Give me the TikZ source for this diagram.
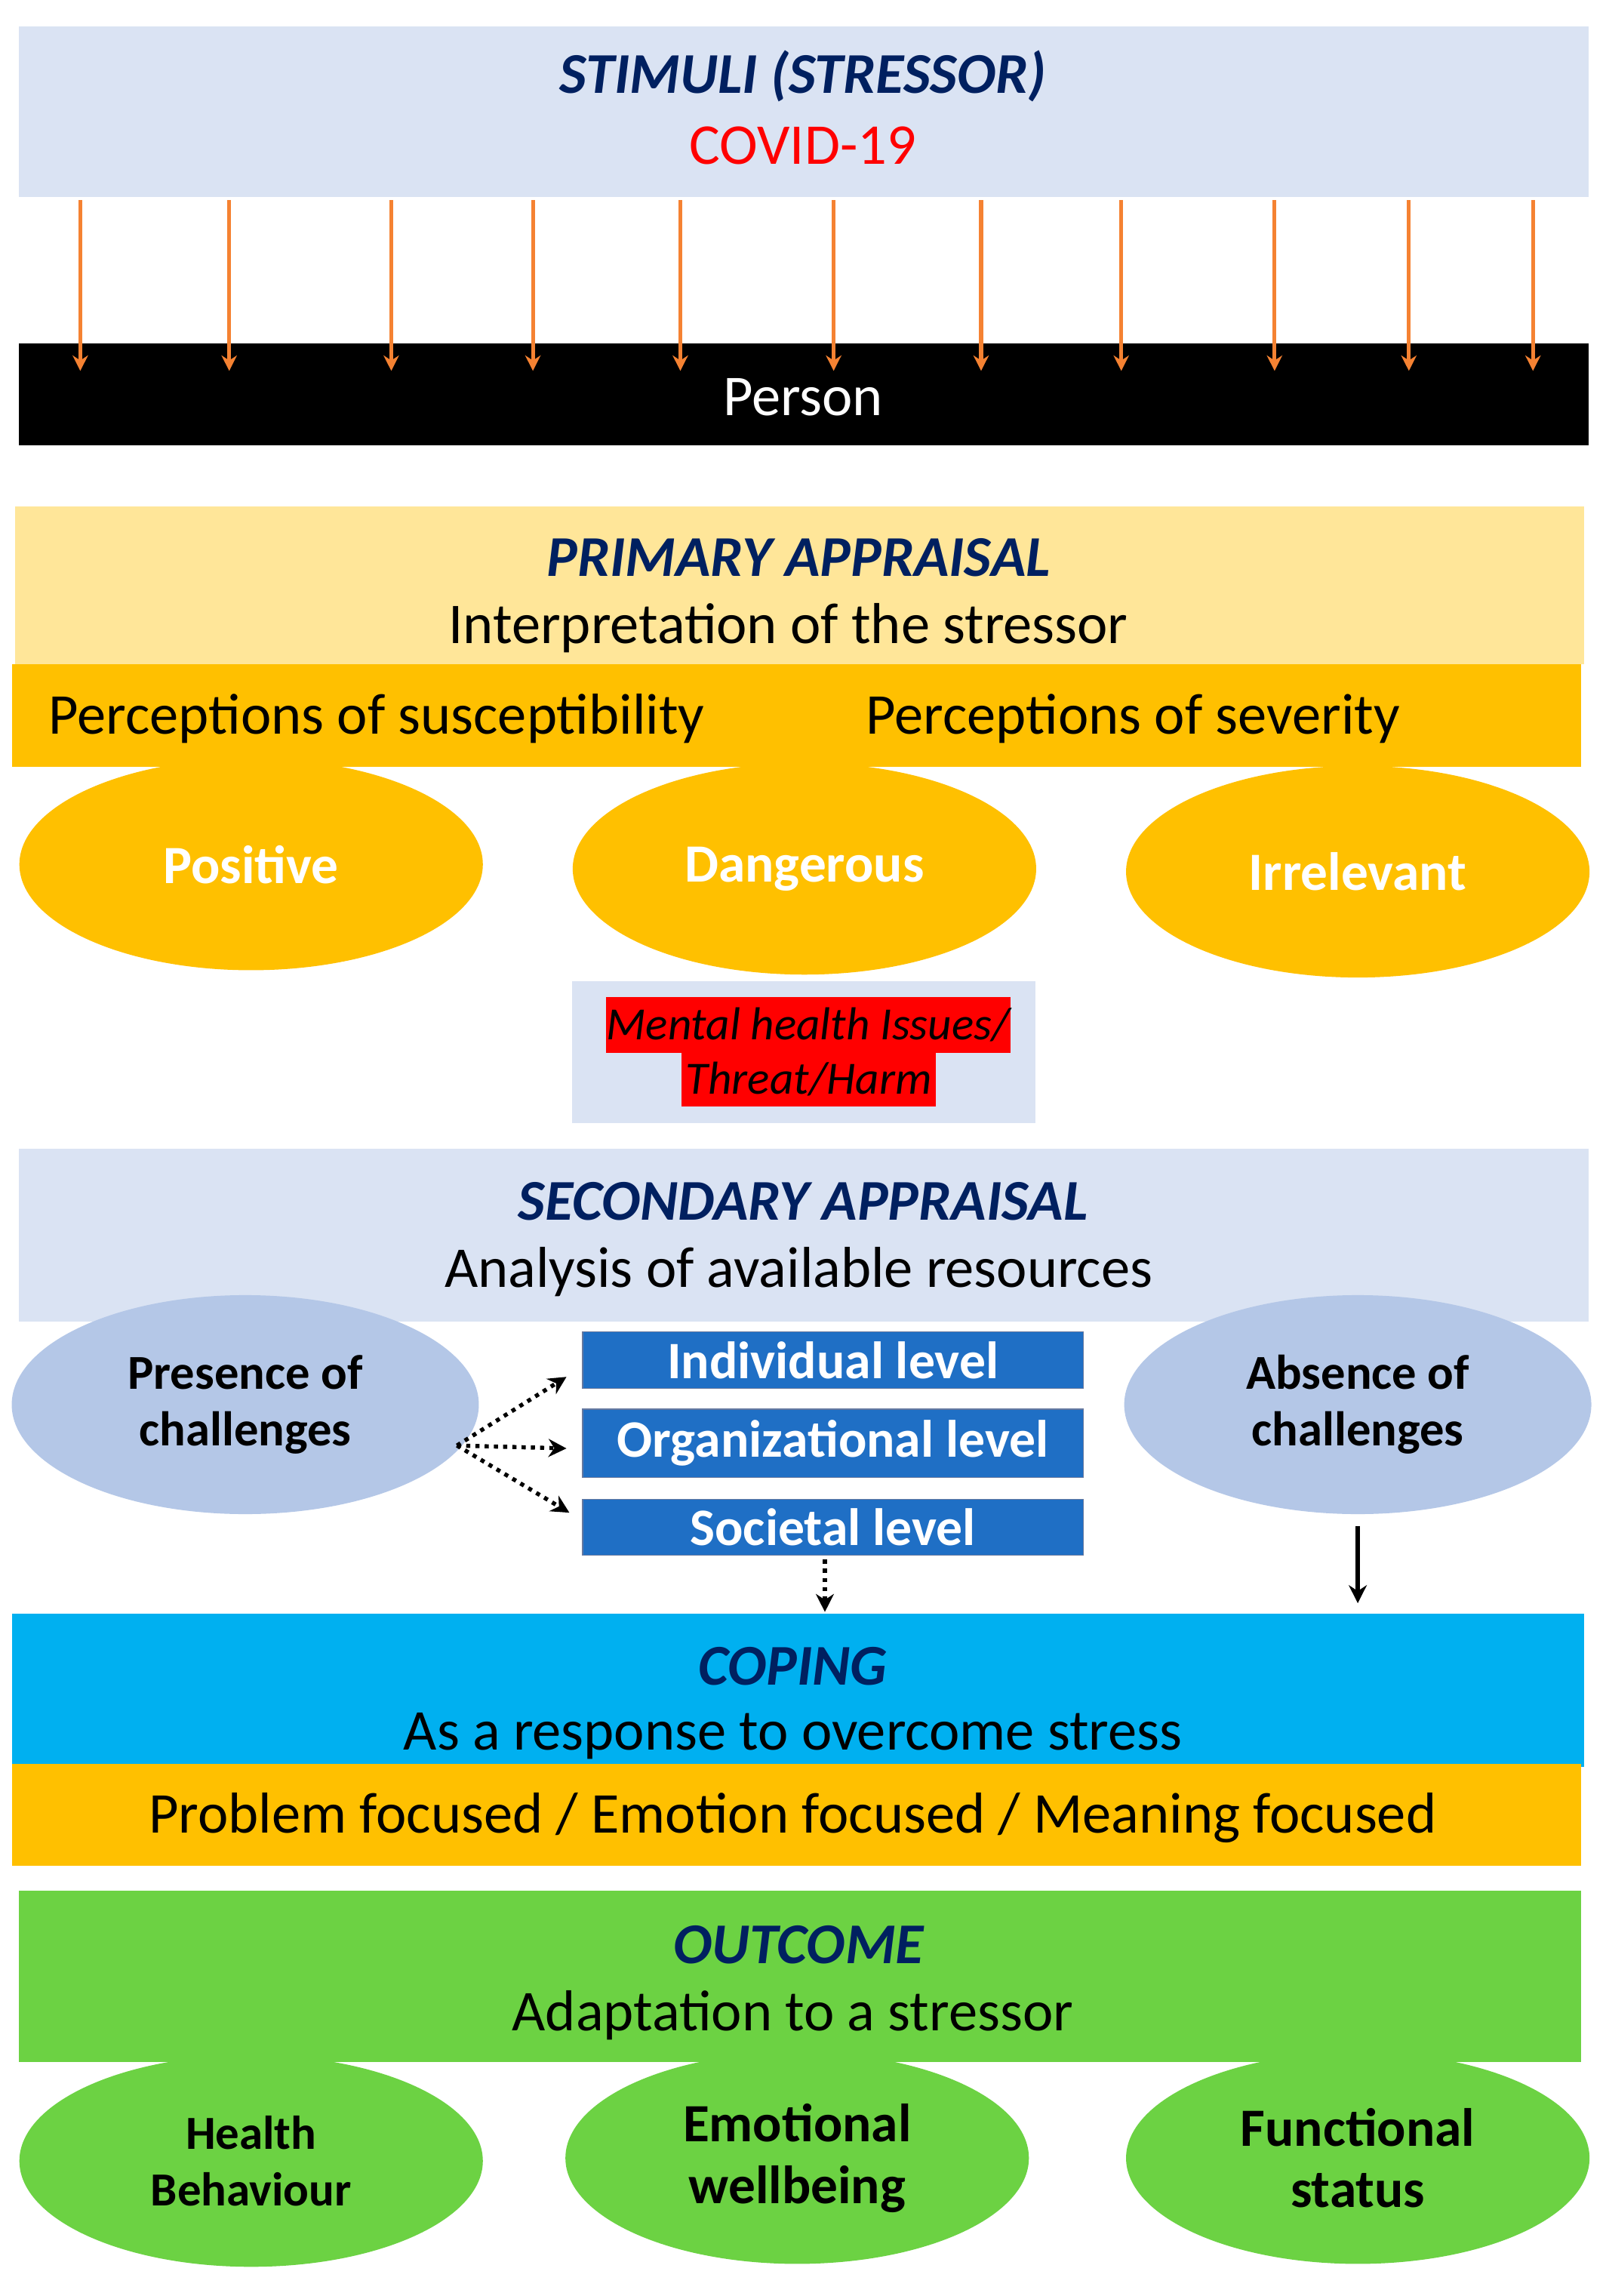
\documentclass[tikz,border=0pt]{standalone}
\usepackage{fontspec}
\setmainfont{Carlito}
\usetikzlibrary{arrows.meta,shapes.geometric}
\definecolor{lblue}{HTML}{DAE3F3}
\definecolor{lyel}{HTML}{FFE699}
\definecolor{org}{HTML}{FFC000}
\definecolor{ell}{HTML}{B4C7E7}
\definecolor{dblue}{HTML}{1F6FC5}
\definecolor{navy}{HTML}{002060}
\definecolor{cyan2}{HTML}{00B0F0}
\definecolor{grn}{HTML}{6CD243}
\definecolor{arr}{HTML}{F58232}
\begin{document}
\begin{tikzpicture}[x=0.02cm,y=-0.02cm,
  box/.style={rectangle,inner sep=0pt,draw=none},
  big/.style={font=\fontsize{22.5}{26}\selectfont},
  ttl/.style={font=\fontsize{22.5}{26}\selectfont\bfseries\itshape,text=navy},
  oell/.style={ellipse,fill=org,inner sep=0pt,minimum width=6.35cm,minimum height=2.9cm,font=\fontsize{21}{24}\selectfont\bfseries,text=white},
  bell/.style={ellipse,fill=ell,inner sep=0pt,minimum width=6.4cm,minimum height=3cm,font=\fontsize{19}{22}\selectfont\bfseries,align=center},
  gell/.style={ellipse,fill=grn,inner sep=0pt,minimum width=6.35cm,minimum height=2.9cm,font=\fontsize{21}{24}\selectfont\bfseries,align=center},
  lvl/.style={rectangle,fill=dblue,draw=navy!60,inner sep=0pt,minimum width=6.86cm,font=\fontsize{20.5}{24}\selectfont\bfseries,text=white},
  oarr/.style={draw=arr,line width=1.5pt,-{Stealth[length=6pt,width=6pt]}},
  dots/.style={dotted,line width=1.6pt,-{Stealth[length=7pt,width=7pt]}},
  ]
\useasboundingbox[fill=white] (0,0) rectangle (1100,1572.5);
% stimuli
\node[box,fill=lblue,minimum width=21.5cm,minimum height=2.34cm] (stim) at (550.5,76.5) {};
\node[ttl] (st1) at (550,52) {STIMULI (STRESSOR)};
\node[big,text=red] (st2) at (550,100) {COVID-19};
\node[box,fill=black,minimum width=21.5cm,minimum height=1.4cm] (person) at (550.5,270) {};
\node[big,text=white] (pt) at (550,272) {Person};
\foreach \x [count=\i] in {55,157,268,365,466,571,672,768,873,965,1050}{
  \coordinate (a\i) at (\x,137); \coordinate (b\i) at (\x,254);
  \draw[oarr] (a\i) -- (b\i);}
% primary
\node[box,fill=lyel,minimum width=21.5cm,minimum height=2.16cm] (prim) at (547.5,401) {};
\node[ttl] (p1) at (547,382) {PRIMARY APPRAISAL};
\node[big] (p2) at (540,430) {Interpretation of the stressor};
\node[box,fill=org,minimum width=21.5cm,minimum height=1.4cm] (pbar) at (545.5,490) {};
\node[big] (ps1) at (258,492) {Perceptions of susceptibility};
\node[big] (ps2) at (776,492) {Perceptions of severity};
\node[oell] (e1) at (172,592) {Positive};
\node[oell] (e2) at (551,595) {Dangerous};
\node[oell] (e3) at (930,597) {Irrelevant};
% mental
\node[box,fill=lblue,minimum width=6.34cm,minimum height=1.94cm] (mh) at (550.5,720.5) {};
\node[box,fill=red,minimum width=5.54cm,minimum height=0.76cm,font=\fontsize{18}{21}\selectfont\itshape] (mh1) at (553.5,702) {Mental health Issues/};
\node[box,fill=red,minimum width=3.48cm,minimum height=0.76cm,font=\fontsize{18}{21}\selectfont\itshape] (mh2) at (554,739) {Threat/Harm};
% secondary
\node[box,fill=lblue,minimum width=21.5cm,minimum height=2.36cm] (sec) at (550.5,846) {};
\node[ttl] (s1) at (550,823) {SECONDARY APPRAISAL};
\node[big] (s2) at (547,871) {Analysis of available resources};
\node[bell] (pc) at (168,962) {Presence of\\challenges};
\node[bell] (ac) at (930,962) {Absence of\\challenges};
\node[lvl,minimum height=0.78cm] (l1) at (570.5,931.5) {Individual level};
\node[lvl,minimum height=0.94cm] (l2) at (570.5,988.5) {Organizational level};
\node[lvl,minimum height=0.76cm] (l3) at (570.5,1046) {Societal level};
\coordinate (o) at (313,990);
\draw[dots] (o) -- (388,943);
\draw[dots] (o) -- (388,992);
\draw[dots] (o) -- (390,1036);
\coordinate (d1) at (565,1068); \coordinate (d2) at (565,1104);
\draw[dots] (d1) -- (d2);
\coordinate (c1) at (930,1045); \coordinate (c2) at (930,1098);
\draw[line width=1.6pt,-{Stealth[length=7pt,width=7pt]}] (c1) -- (c2);
% coping
\node[box,fill=cyan2,minimum width=21.54cm,minimum height=2.1cm] (cop) at (546.5,1157.5) {};
\node[ttl] (c1t) at (543,1141) {COPING};
\node[big] (c2t) at (543,1189) {As a response to overcome stress};
\node[box,fill=org,minimum width=21.5cm,minimum height=1.4cm] (cbar) at (545.5,1243) {};
\node[big] (cb) at (543,1245) {Problem focused / Emotion focused / Meaning focused};
% outcome
\node[box,fill=grn,minimum width=21.4cm,minimum height=2.34cm] (out) at (548,1353.5) {};
\node[ttl] (o1) at (547,1332) {OUTCOME};
\node[big] (o2) at (543,1380) {Adaptation to a stressor};
\node[gell,font=\fontsize{18.5}{22}\selectfont\bfseries] (g1) at (172,1480) {Health\\Behaviour};
\node[gell] (g2) at (546,1478) {Emotional\\wellbeing};
\node[gell] (g3) at (930,1478) {Functional\\status};
\end{tikzpicture}
\end{document}
